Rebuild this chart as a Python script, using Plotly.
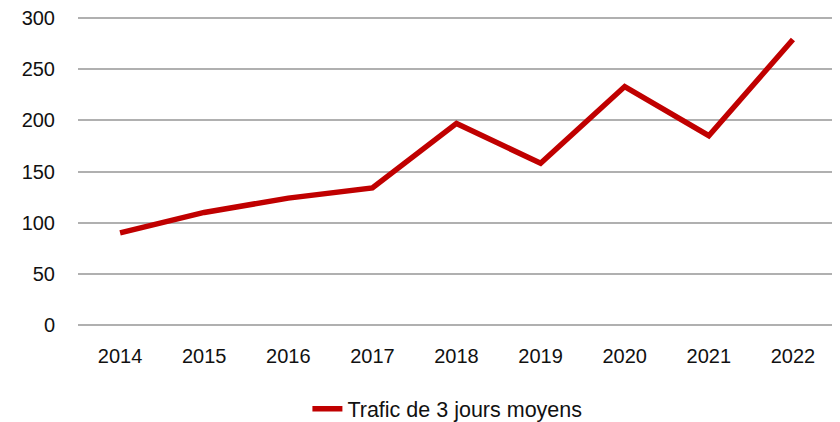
import plotly.graph_objects as go

years = ["2014", "2015", "2016", "2017", "2018", "2019", "2020", "2021", "2022"]
trafic = [90, 110, 124, 134, 197, 158, 233, 185, 279]
series_name = "Trafic de 3 jours moyens"
y_ticks = [0, 50, 100, 150, 200, 250, 300]

fig = go.Figure()
fig.add_trace(go.Scatter(
    x=years, y=trafic, mode="lines", name=series_name,
    line=dict(color="#C00000", width=5.5),
))

fig.update_layout(
    width=840, height=422,
    margin=dict(l=70, r=13, t=9, b=105, autoexpand=False),
    paper_bgcolor="white", plot_bgcolor="white",
    font=dict(family="Liberation Sans, Arial, sans-serif", size=20, color="#111111"),
    showlegend=True,
    legend=dict(orientation="h", x=0.488, xanchor="center", y=-0.272, yanchor="middle",
                font=dict(size=21.5), itemwidth=30),
)
fig.update_xaxes(
    type="category", range=[-0.5, 8.5], showgrid=False, zeroline=False, automargin=False,
    showline=False, ticks="", ticklabelstandoff=17,
)
fig.update_yaxes(
    range=[0, 301], tickvals=y_ticks, showgrid=True, gridcolor="#b0b0b0", gridwidth=1.5,
    zeroline=True, zerolinecolor="#b0b0b0", zerolinewidth=1.5, showline=False, automargin=False,
    ticks="", ticklabelstandoff=22, ticklabeloverflow="allow",
)

fig.write_html("out.html")
